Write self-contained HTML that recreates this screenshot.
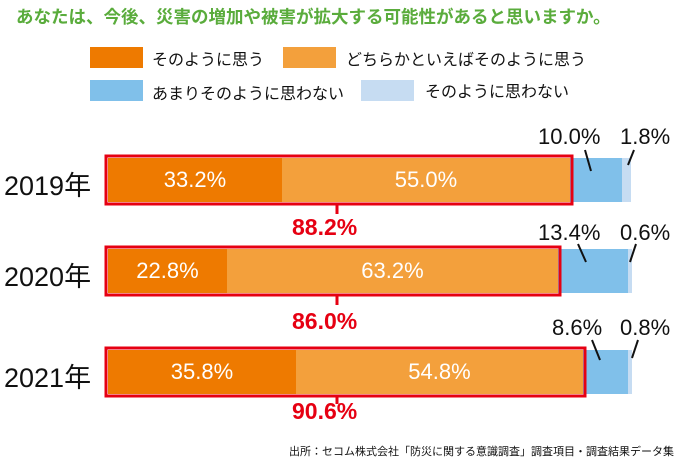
<!DOCTYPE html><html><head><meta charset="utf-8"><style>
body{margin:0;width:688px;height:469px;background:#fff;position:relative;overflow:hidden;font-family:"Liberation Sans","Noto Sans CJK JP",sans-serif}
.a{position:absolute;white-space:nowrap}
.sw{position:absolute;width:53px;height:21px}
.t{font-size:16px;color:#111}
.yr{font-size:27px;color:#111}
.in{font-size:22px;color:#fff;text-align:center}
.red{font-size:23px;color:#e60012;font-weight:bold}
.sm{font-size:22px;color:#111}
</style></head><body>
<div class="a" style="left:16px;top:4px;font-size:17.5px;font-weight:bold;color:#5aac3c">あなたは、今後、災害の増加や被害が拡大する可能性があると思いますか。</div>
<div class="sw" style="left:90px;top:47px;background:#ee7a00"></div><div class="a t" style="left:152px;top:46px">そのように思う</div>
<div class="sw" style="left:283px;top:47px;background:#f3a03c"></div><div class="a t" style="left:346px;top:46px">どちらかといえばそのように思う</div>
<div class="sw" style="left:90px;top:80px;background:#80c0ea"></div><div class="a t" style="left:152px;top:80px">あまりそのように思わない</div>
<div class="sw" style="left:361px;top:80px;background:#c6dcf2"></div><div class="a t" style="left:425px;top:78px">そのように思わない</div>
<svg class="a" style="left:0;top:0" width="688" height="469">
<g>
<rect x="108" y="158" width="174" height="44" fill="#ee7a00"/><rect x="282" y="158" width="288" height="44" fill="#f3a03c"/>
<rect x="570" y="158" width="52" height="44" fill="#80c0ea"/><rect x="622" y="158" width="9" height="44" fill="#c6dcf2"/>
<rect x="106" y="156" width="466" height="48" fill="none" stroke="#e60012" stroke-width="3"/>
<line x1="337" y1="204" x2="337" y2="214" stroke="#e60012" stroke-width="3"/>
<line x1="585" y1="150" x2="591" y2="171" stroke="#111" stroke-width="2"/><line x1="634" y1="150" x2="628" y2="165" stroke="#111" stroke-width="2"/>
</g>
<g>
<rect x="108" y="249" width="119" height="44" fill="#ee7a00"/><rect x="227" y="249" width="331" height="44" fill="#f3a03c"/>
<rect x="558" y="249" width="70" height="44" fill="#80c0ea"/><rect x="628" y="249" width="4" height="44" fill="#c6dcf2"/>
<rect x="106" y="247" width="454" height="48" fill="none" stroke="#e60012" stroke-width="3"/>
<line x1="337" y1="295" x2="337" y2="305" stroke="#e60012" stroke-width="3"/>
<line x1="578" y1="244" x2="586" y2="262" stroke="#111" stroke-width="2"/><line x1="636" y1="244" x2="630" y2="262" stroke="#111" stroke-width="2"/>
</g>
<g>
<rect x="108" y="350" width="188" height="44" fill="#ee7a00"/><rect x="296" y="350" width="287" height="44" fill="#f3a03c"/>
<rect x="583" y="350" width="45" height="44" fill="#80c0ea"/><rect x="628" y="350" width="4" height="44" fill="#c6dcf2"/>
<rect x="106" y="348" width="479" height="48" fill="none" stroke="#e60012" stroke-width="3"/>
<line x1="337" y1="396" x2="337" y2="404" stroke="#e60012" stroke-width="3"/>
<line x1="592" y1="340" x2="600" y2="360" stroke="#111" stroke-width="2"/><line x1="638" y1="340" x2="632" y2="358" stroke="#111" stroke-width="2"/>
</g>
</svg>
<div class="a yr" style="left:4px;top:164px">2019年</div>
<div class="a yr" style="left:4px;top:255px">2020年</div>
<div class="a yr" style="left:4px;top:356px">2021年</div>
<div class="a in" style="left:108px;width:174px;top:167px">33.2%</div>
<div class="a in" style="left:282px;width:288px;top:167px">55.0%</div>
<div class="a in" style="left:108px;width:119px;top:258px">22.8%</div>
<div class="a in" style="left:227px;width:331px;top:258px">63.2%</div>
<div class="a in" style="left:108px;width:188px;top:359px">35.8%</div>
<div class="a in" style="left:296px;width:287px;top:359px">54.8%</div>
<div class="a red" style="left:292px;top:214px">88.2%</div>
<div class="a red" style="left:292px;top:308px">86.0%</div>
<div class="a red" style="left:292px;top:398px">90.6%</div>
<div class="a sm" style="left:538px;top:124px">10.0%</div><div class="a sm" style="left:620px;top:124px">1.8%</div>
<div class="a sm" style="left:538px;top:220px">13.4%</div><div class="a sm" style="left:620px;top:220px">0.6%</div>
<div class="a sm" style="left:552px;top:315px">8.6%</div><div class="a sm" style="left:620px;top:315px">0.8%</div>
<div class="a" style="right:14px;top:443px;font-size:11px;color:#111">出所：セコム株式会社「防災に関する意識調査」調査項目・調査結果データ集</div>
</body></html>
